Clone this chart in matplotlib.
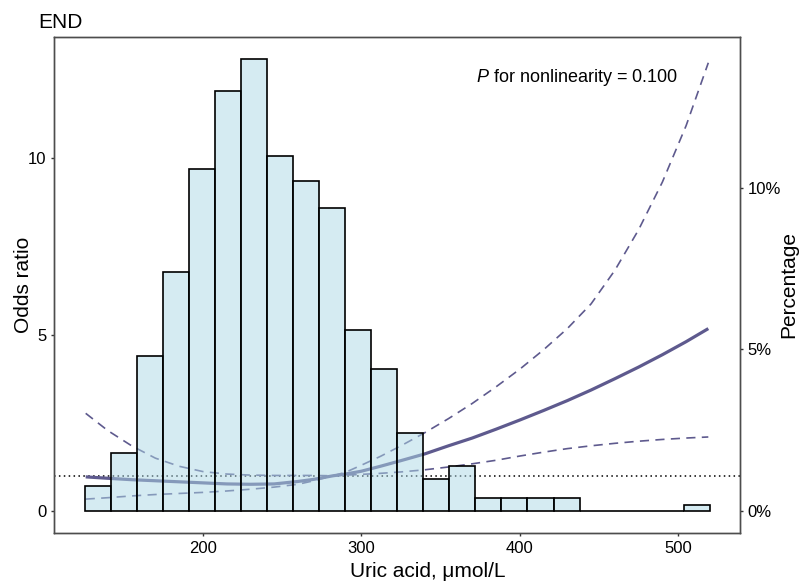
import numpy as np
import matplotlib
matplotlib.use('Agg')
import matplotlib.pyplot as plt
from matplotlib.ticker import FuncFormatter

plt.rcParams['font.family'] = ['Liberation Sans', 'DejaVu Sans']
plt.rcParams['mathtext.fontset'] = 'custom'
plt.rcParams['mathtext.rm'] = 'Liberation Sans'
plt.rcParams['mathtext.it'] = 'Liberation Sans:italic'

# histogram of uric acid (percent of participants per bin)
bin_edges = [125.7, 142.1, 158.5, 175.0, 191.4, 207.8, 224.2, 240.6, 257.1,
             273.5, 289.9, 306.3, 322.7, 339.2, 355.6, 372.0, 388.4, 404.8,
             421.3, 437.7, 454.1, 470.5, 486.9, 503.4, 519.8]
pct = [0.78, 1.79, 4.79, 7.39, 10.59, 13.0, 13.98, 11.0, 10.2, 9.39, 5.59, 4.39,
       2.4, 0.99, 1.40, 0.39, 0.39, 0.39, 0.39, 0, 0, 0, 0, 0.2]

# restricted cubic spline: odds ratio and 95% CI
ua = [126, 140, 155, 170, 185, 200, 215, 230, 245, 260, 270, 282, 290, 300,
      312, 325, 340, 355, 370, 385, 400, 415, 430, 445, 460, 475, 490, 505, 519]
or_fit = [0.97, 0.93, 0.89, 0.86, 0.83, 0.80, 0.77, 0.76, 0.77, 0.84, 0.90, 1.00,
          1.05, 1.13, 1.27, 1.43, 1.62, 1.85, 2.07, 2.32, 2.58, 2.85, 3.13, 3.43,
          3.75, 4.08, 4.43, 4.80, 5.17]
or_upper = [2.77, 2.28, 1.85, 1.50, 1.27, 1.12, 1.05, 1.02, 1.01, 1.01, 1.01, 1.00,
            1.10, 1.30, 1.55, 1.85, 2.22, 2.62, 3.05, 3.52, 4.02, 4.57, 5.17, 5.87,
            6.82, 7.97, 9.32, 10.92, 12.7]
or_lower = [0.34, 0.38, 0.43, 0.47, 0.50, 0.53, 0.57, 0.62, 0.68, 0.76, 0.86, 1.00,
            1.02, 1.04, 1.07, 1.11, 1.17, 1.25, 1.34, 1.44, 1.56, 1.67, 1.77, 1.85,
            1.92, 1.98, 2.03, 2.07, 2.10]

line_col = '#5e5a8e'
spine_col = '#4d4d4d'

fig = plt.figure(figsize=(7.99, 5.81), dpi=100)
ax = fig.add_axes([54/799, 48/581, 686/799, 496/581])

ax.axhline(1, color='black', lw=1.1, linestyle=(0, (1, 2.2)), zorder=1)
ax.plot(ua, or_fit, color=line_col, lw=2.3, solid_capstyle='butt', zorder=2)
ax.plot(ua, or_upper, color=line_col, lw=1.2, linestyle=(0, (5.5, 3.8)), zorder=2)
ax.plot(ua, or_lower, color=line_col, lw=1.2, linestyle=(0, (5.5, 3.8)), zorder=2)

ax.set_xlim(106, 539)
ax.set_ylim(-0.62, 13.43)
ax.set_xticks([200, 300, 400, 500])
ax.set_yticks([0, 5, 10])

# histogram on the secondary axis, drawn over the curves
ax2 = ax.twinx()
lefts = bin_edges[:-1]
widths = np.diff(bin_edges)
ax2.bar(lefts, np.array(pct) / 100, width=widths, align='edge',
        facecolor=(173/255, 216/255, 230/255, 0.5), edgecolor='black', linewidth=1.2)
ax2.set_ylim(-0.0068, 0.1467)
ax2.set_yticks([0, 0.05, 0.10])
ax2.yaxis.set_major_formatter(FuncFormatter(lambda v, p: f'{v*100:.0f}%'))

for a in (ax, ax2):
    for s in a.spines.values():
        s.set_color(spine_col)
        s.set_linewidth(1.0)
    a.tick_params(length=2.5, width=1.0, color='#333333', labelsize=12,
                  labelcolor='black', pad=3)

ax.set_xlabel('Uric acid, μmol/L', fontsize=15)
ax.xaxis.set_label_coords(0.545, -0.058)
ax.set_ylabel('Odds ratio', fontsize=15)
ax.yaxis.set_label_coords(-0.03, 0.5)
ax2.set_ylabel('Percentage', fontsize=15)
ax2.yaxis.set_label_coords(1.057, 0.5)

ax.text(0.762, 0.919, r'$\it{P}$ for nonlinearity = 0.100', transform=ax.transAxes,
        ha='center', va='center', fontsize=13)
fig.text(38/799, 1 - 28/581, 'END', fontsize=15, ha='left', va='baseline')

fig.savefig('out.png', dpi=100)
